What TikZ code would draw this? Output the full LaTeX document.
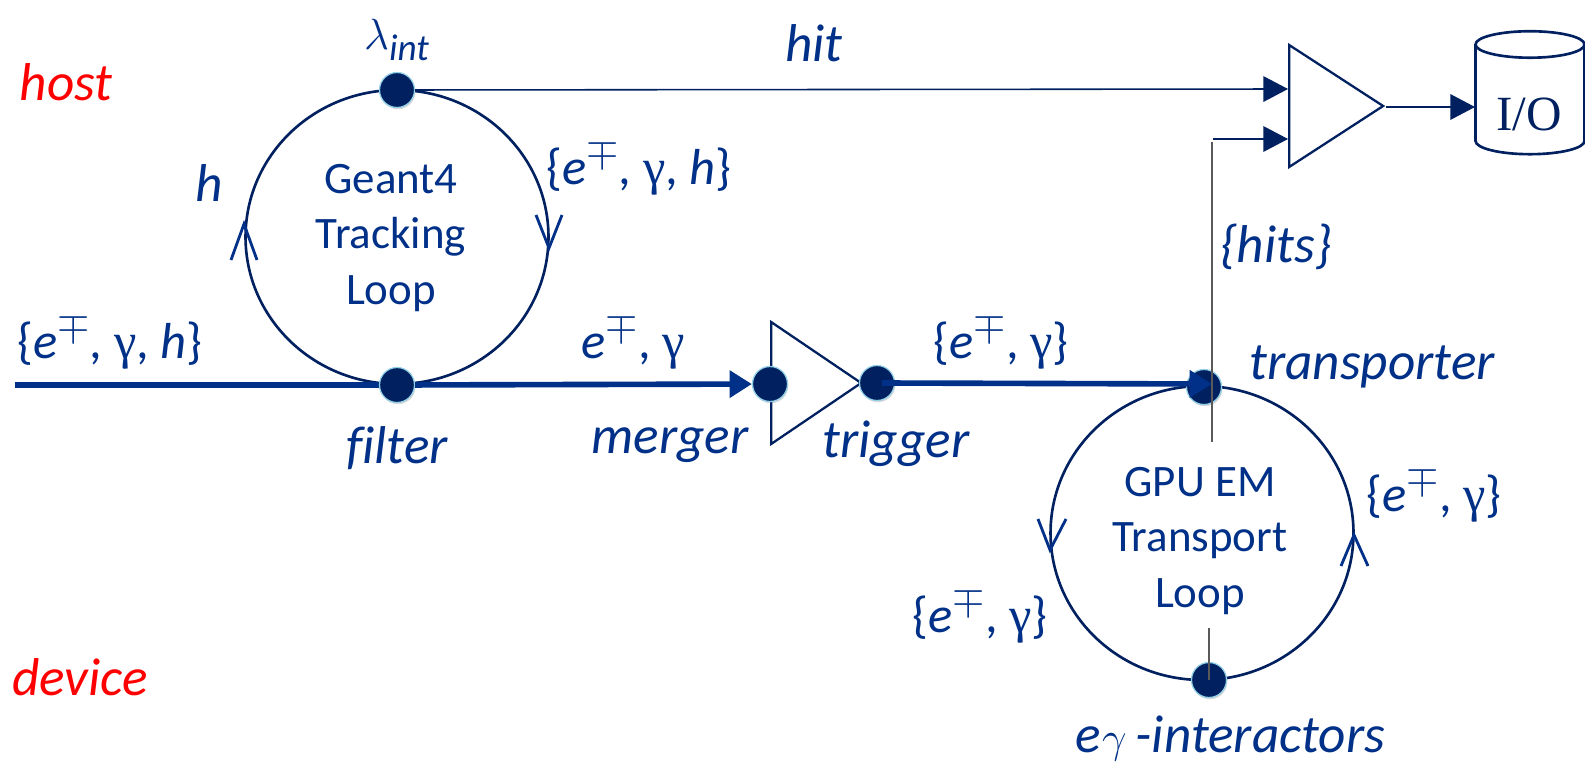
\documentclass[tikz,border=0pt]{standalone}
\usepackage{fontspec}
\setmainfont{Carlito}
\newfontfamily\iofont{Liberation Serif}
\usetikzlibrary{arrows.meta,shapes.geometric,shadows}
\definecolor{navy}{HTML}{002060}
\definecolor{flow}{HTML}{003087}
\definecolor{halo}{HTML}{92D0E6}
\newcommand{\eterm}{\textit{e}\raisebox{0.42em}{\scalebox{0.95}{$\mp$}}}
\newcommand{\gam}{{\iofont γ}}

\begin{document}
\begin{tikzpicture}[
  x=0.02cm, y=-0.02cm,
  ring/.style    = {draw=navy, ellipse, line width=1.5pt, minimum width=6.06cm, minimum height=5.88cm, inner sep=0pt},
  dot/.style     = {circle, fill=navy, draw=halo, line width=0.7pt, minimum size=0.7cm,
                    inner sep=0pt, drop shadow={opacity=.3,shadow xshift=0.5pt,shadow yshift=-1pt}},
  amp/.style     = {draw=navy, line width=1.3pt, isosceles triangle, isosceles triangle stretches,
                    anchor=lower side, inner sep=0pt},
  disk/.style    = {draw=navy, line width=1.5pt, cylinder, shape border rotate=90, aspect=0.39,
                    font=\iofont\fontsize{29}{30}\selectfont,
                    minimum width=2.18cm, minimum height=2.46cm, inner sep=0pt},
  thin flow/.style  = {navy, line width=0.9pt, -{Triangle[length=14pt,width=14.5pt]}},
  thick flow/.style = {flow, line width=3.2pt, -{Triangle[length=12.7pt,width=15pt]}},
  probe/.style   = {draw=black!65, line width=0.8pt},
  barb/.style    = {flow, line width=1.6pt},
  lbl/.style     = {text=flow, font=\fontsize{30.3}{34}\selectfont\itshape, inner sep=0pt},
  mth/.style     = {text=flow, font=\fontsize{28.8}{32}\selectfont, inner sep=0pt},
  side/.style    = {text=red, font=\fontsize{30.3}{34}\selectfont\itshape, inner sep=0pt},
  caption/.style = {text=flow, font=\fontsize{25.6}{31.5}\selectfont, align=center, inner sep=0pt},
]
  \useasboundingbox (0,0) rectangle (1585,764);

  \node[ring] (geant) at (397,237) {};
  \node[ring] (gpu) at (1202,533) {};
  \node[caption] (geant text) at (391,238) {Geant4\\Tracking\\Loop};
  \node[caption] (gpu text) at (1200,541) {GPU EM\\Transport\\Loop};

  \node[amp,minimum width=2.44cm,minimum height=1.8cm] (merge amp) at (770,383) {};
  \node[amp,minimum width=2.44cm,minimum height=1.88cm] (out amp) at (1288,106) {};
  \node[disk] (io) at (1530,100) {\phantom{I/O}};
  \node[text=navy, font=\iofont\fontsize{28}{30}\selectfont, inner sep=0pt] (io text) at (1529,114) {I/O};

  % free ends of the flows
  \coordinate (entry) at (15,385);
  \coordinate (hit in) at (1288,89);
  \coordinate (hits in) at (1288,139);
  \coordinate (hits start) at (1213,139);
  \coordinate (hits top) at (1212,142);
  \coordinate (hits end) at (1212,442);
  \coordinate (tick end) at (1209,628);
  \coordinate (out start) at (1386,107);
  \coordinate (out end) at (1475,107);
  \coordinate (trigger out) at (882,383);
  \coordinate (transporter in) at (1212,384);

  \draw[flow, line width=3.2pt] (entry) -- (397,385);
  \node[dot] (lambda) at (397,90) {};
  \node[dot] (filter) at (397,385) {};
  \node[dot] (merger) at (770,384) {};
  \node[dot] (trigger) at (877,383) {};
  \node[dot] (transporter) at (1204,387) {};
  \node[dot] (interactors) at (1209,680) {};

  \draw[thick flow] (filter) -- (merger);
  \draw[thick flow] (trigger out) -- (transporter in);
  \draw[thin flow] (lambda) -- (hit in);
  \draw[thin flow] (hits start) -- (hits in);
  \draw[thin flow] (out start) -- (out end);
  \draw[probe] (hits end) -- (hits top);
  \draw[probe] (interactors.center) -- (tick end);

  % open arrow marks on the rings
  \draw[barb] (536,215) -- (549,248) -- (562,215);
  \draw[barb] (231,260) -- (244,224) -- (257,260);
  \draw[barb] (1038,519) -- (1050,550) -- (1066,519);
  \draw[barb] (1341,566) -- (1354,535) -- (1368,566);

  \node[side] (host) at (66,82) {host};
  \node[side] (device) at (80,677) {device};
  \node[lbl] (lambda lbl) at (397,40) {$\lambda$\textsubscript{int}};
  \node[lbl] (hit lbl) at (814,43) {hit};
  \node[lbl] (h lbl) at (209,183) {h};
  \node[lbl] (filter lbl) at (397,448) {f\kern0pt ilter};
  \node[lbl] (merger lbl) at (670,445) {merger};
  \node[lbl] (trigger lbl) at (896,444) {trigger};
  \node[lbl] (transporter lbl) at (1372,367) {transporter};
  \node[lbl] (hits lbl) at (1276,247) {\{hits\}};
  \node[lbl] (interactors lbl) at (1230,738) {\textit{e}\kern1pt$\gamma$\,-interactors};

  \node[mth] (all in) at (110,341) {\{\eterm, \gam, \textit{h}\}};
  \node[mth] (all loop) at (639,167) {\{\eterm, \gam, \textit{h}\}};
  \node[mth] (em out) at (633,341) {\eterm, \gam};
  \node[mth] (em set) at (1001,341) {\{\eterm, \gam\}};
  \node[mth] (em right) at (1434,494) {\{\eterm, \gam\}};
  \node[mth] (em left) at (980,615) {\{\eterm, \gam\}};
\end{tikzpicture}
\end{document}
